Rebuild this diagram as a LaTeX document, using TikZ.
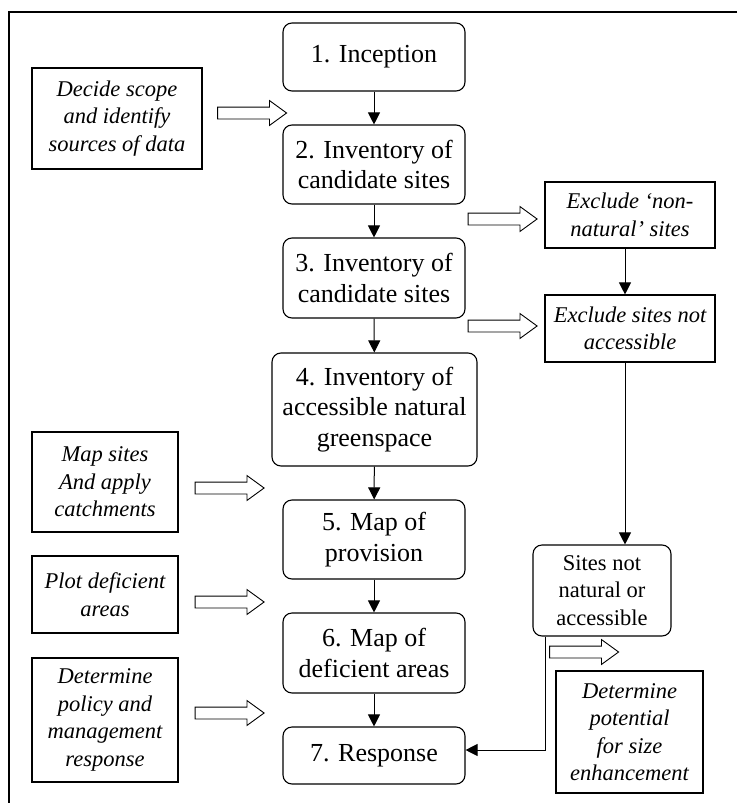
\documentclass[tikz,border=0pt]{standalone}
\usepackage{fontspec}
\setmainfont{Liberation Serif}
\usetikzlibrary{shapes,arrows,positioning,calc,arrows.meta}

\begin{document}
\begin{tikzpicture}[x=1pt,y=-1pt,
    stage/.style={draw,rounded corners=9pt,align=center,inner sep=0pt,line width=1.1pt,font=\fontsize{26}{30.5}\selectfont},
    task/.style={draw,align=center,inner sep=0pt,line width=1.1pt,font=\fontsize{22.5}{27.5}\selectfont\itshape},
    fat/.style={draw,single arrow,single arrow head extend=6.5pt,single arrow tip angle=72,inner xsep=0pt,inner ysep=5.5pt,minimum height=69pt,line width=0.9pt},
    link/.style={-{Triangle[length=12pt,width=12pt]},line width=1pt}]
    \useasboundingbox (0,0) rectangle (737,803);
    % Frame
    \draw[line width=1.5pt] (737,12) -- (9,12) -- (9,803);
    % Main stages
    \node[stage,minimum width=182pt,minimum height=68pt] (s1) at (374,57) {1. Inception};
    \node[stage,minimum width=182pt,minimum height=79pt] (s2) at (374,164.5) {2. Inventory of\\candidate sites};
    \node[stage,minimum width=182pt,minimum height=80pt] (s3) at (374,278) {3. Inventory of\\candidate sites};
    \node[stage,minimum width=205pt,minimum height=113pt] (s4) at (374.5,409.5) {4. Inventory of\\accessible natural\\greenspace};
    \node[stage,minimum width=182pt,minimum height=79pt] (s5) at (374,539.5) {5. Map of\\provision};
    \node[stage,minimum width=182pt,minimum height=80pt] (s6) at (374,653) {6. Map of\\deficient areas};
    \node[stage,minimum width=182pt,minimum height=57pt] (s7) at (374,755.5) {7. Response};
    % Tasks on the left
    \node[task,minimum width=170pt,minimum height=101pt] (t1) at (117,118.5) {Decide scope\\and identify\\sources of data};
    \node[task,minimum width=146pt,minimum height=100pt] (t2) at (105,482) {Map sites\\And apply\\catchments};
    \node[task,minimum width=146pt,minimum height=77pt] (t3) at (105,594.5) {Plot deficient\\areas};
    \node[task,minimum width=146pt,minimum height=124pt] (t4) at (105,720) {Determine\\policy and\\management\\response};
    % Exclusions on the right
    \node[task,minimum width=170pt,minimum height=66pt] (x1) at (630,215) {Exclude ‘non-\\natural’ sites};
    \node[task,minimum width=170pt,minimum height=67pt] (x2) at (630,328.5) {Exclude sites not\\accessible};
    \node[stage,minimum width=138pt,minimum height=91pt,font=\fontsize{22.5}{27.5}\selectfont] (ns) at (602,590.5) {Sites not\\natural or\\accessible};
    \node[task,minimum width=147pt,minimum height=122pt] (pe) at (629.5,732) {Determine\\potential\\for size\\enhancement};
    % Hollow arrows
    \node[fat] (f1) at (248,113) {};
    \node[fat] (f2) at (498.5,219) {};
    \node[fat] (f3) at (498.5,326) {};
    \node[fat] (f4) at (225.5,488) {};
    \node[fat] (f5) at (225.5,602) {};
    \node[fat] (f6) at (225.5,713) {};
    \node[fat] (f7) at (580,652) {};
    % Flow
    \draw[link] (s1) -- (s2);
    \draw[link] (s2) -- (s3);
    \draw[link] (s3) -- (s4);
    \draw[link] (s4) -- (s5);
    \draw[link] (s5) -- (s6);
    \draw[link] (s6) -- (s7);
    \draw[link] ([xshift=-5pt]x1.south) -- ([xshift=-5pt]x2.north);
    \draw[link] ([xshift=-5pt]x2.south) -- ([xshift=-5pt]x2.south |- ns.north);
    \coordinate (bend) at (545,750);
    \draw[link] (bend |- ns.south) -- (bend) -- (bend -| s7.east);
\end{tikzpicture}
\end{document}
